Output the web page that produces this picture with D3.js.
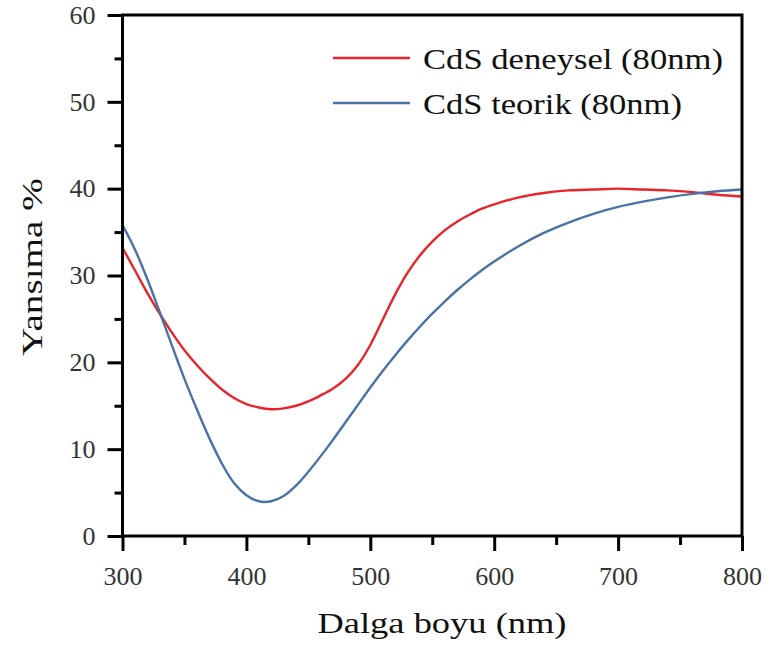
<!DOCTYPE html>
<html>
<head>
<meta charset="utf-8">
<script src="https://cdn.jsdelivr.net/npm/d3@7"></script>
<style>
  html, body { margin: 0; padding: 0; background: #fff; }
  svg { display: block; }
</style>
</head>
<body>
<svg id="chart" width="769" height="655"></svg>
<script>
// ---- data ----
const wavelengths = [300,310,320,330,340,350,360,370,380,390,400,410,420,430,440,450,460,470,480,490,500,510,520,530,540,550,560,570,580,590,600,620,640,660,680,700,720,740,760,780,800];
const experimental = [33.2,30.6,28.0,25.6,23.4,21.4,19.7,18.2,16.9,15.9,15.2,14.8,14.6,14.7,15.0,15.5,16.2,17.0,18.1,19.7,22.0,24.9,27.8,30.3,32.3,33.9,35.2,36.2,37.0,37.7,38.2,39.0,39.5,39.8,39.9,40.0,39.9,39.8,39.6,39.3,39.1];
const theoretical = [35.8,33.0,29.6,25.8,21.9,18.1,14.6,11.3,8.4,6.1,4.7,4.0,4.0,4.6,5.8,7.4,9.2,11.1,13.1,15.1,17.1,19.0,20.8,22.5,24.1,25.6,27.0,28.3,29.5,30.6,31.6,33.4,34.9,36.1,37.1,37.9,38.5,39.0,39.4,39.7,39.9];
const seriesNames = ["CdS deneysel (80nm)", "CdS teorik (80nm)"];
const xTicks = [300,400,500,600,700,800];
const xMinorTicks = [350,450,550,650,750];
const yTicks = [0,10,20,30,40,50,60];
const yMinorTicks = [5,15,25,35,45,55];
const xTitle = "Dalga boyu (nm)";
const yTitle = "Yansıma %";

const FONT = '"Liberation Serif", "Times New Roman", serif';
const svg = d3.select("#chart");
const pLeft = 122.5, pRight = 742, pTop = 15, pBottom = 536;

const x = d3.scaleLinear().domain([300, 800]).range([pLeft, pRight]);
const y = d3.scaleLinear().domain([0, 60]).range([pBottom, pTop]);

const colors = ["#e8232b", "#4a72a6"];
const series = [experimental, theoretical];

// curves
const line = d3.line()
  .x((d, i) => x(wavelengths[i]))
  .y(d => y(d))
  .curve(d3.curveCatmullRom.alpha(0.5));

const plot = svg.append("g");
plot.append("defs").append("clipPath").attr("id", "clip")
  .append("rect").attr("x", pLeft).attr("y", pTop).attr("width", pRight - pLeft).attr("height", pBottom - pTop);

series.forEach((vals, k) => {
  plot.append("path")
    .datum(vals)
    .attr("clip-path", "url(#clip)")
    .attr("fill", "none")
    .attr("stroke", colors[k])
    .attr("stroke-width", 2.4)
    .attr("d", line);
});

// axes
const axisStyle = g => {
  g.attr("font-family", FONT);
  g.select(".domain").remove();
  g.selectAll(".tick line").attr("stroke", "#000").attr("stroke-width", 3);
  g.selectAll(".tick text")
    .attr("fill", "#333")
    .style("font-family", FONT)
    .style("font-size", "26px");
};

svg.append("g")
  .attr("transform", `translate(0,${pBottom})`)
  .call(d3.axisBottom(x).tickValues(xTicks).tickSize(15).tickPadding(16).tickFormat(d3.format("d")))
  .call(axisStyle);
svg.append("g")
  .attr("transform", `translate(0,${pBottom})`)
  .call(d3.axisBottom(x).tickValues(xMinorTicks).tickSize(9).tickFormat(""))
  .call(axisStyle);

svg.append("g")
  .attr("transform", `translate(${pLeft},0)`)
  .call(d3.axisLeft(y).tickValues(yTicks).tickSize(15).tickPadding(12).tickFormat(d3.format("d")))
  .call(axisStyle);
svg.append("g")
  .attr("transform", `translate(${pLeft},0)`)
  .call(d3.axisLeft(y).tickValues(yMinorTicks).tickSize(8).tickFormat(""))
  .call(axisStyle);

// frame
svg.append("rect")
  .attr("x", pLeft).attr("y", pTop)
  .attr("width", pRight - pLeft).attr("height", pBottom - pTop)
  .attr("fill", "none").attr("stroke", "#000").attr("stroke-width", 3);

// axis titles
svg.append("text")
  .attr("x", 442).attr("y", 633)
  .attr("text-anchor", "middle")
  .attr("textLength", 249).attr("lengthAdjust", "spacingAndGlyphs")
  .style("font-family", FONT)
  .style("font-size", "29px").attr("fill", "#111")
  .text(xTitle);

svg.append("text")
  .attr("transform", "translate(42,267) rotate(-90)")
  .attr("text-anchor", "middle")
  .attr("textLength", 178).attr("lengthAdjust", "spacingAndGlyphs")
  .style("font-family", FONT)
  .style("font-size", "29px").attr("fill", "#111")
  .text(yTitle);

// legend
const legendY = [58, 103];
const legendLen = [300, 259];
seriesNames.forEach((name, k) => {
  svg.append("line")
    .attr("x1", 333).attr("x2", 410)
    .attr("y1", legendY[k]).attr("y2", legendY[k])
    .attr("stroke", colors[k]).attr("stroke-width", 2.4);
  svg.append("text")
    .attr("x", 423).attr("y", legendY[k] + 11)
    .attr("textLength", legendLen[k]).attr("lengthAdjust", "spacingAndGlyphs")
    .style("font-family", FONT)
    .style("font-size", "30px").attr("fill", "#111")
    .text(name);
});
</script>
</body>
</html>
